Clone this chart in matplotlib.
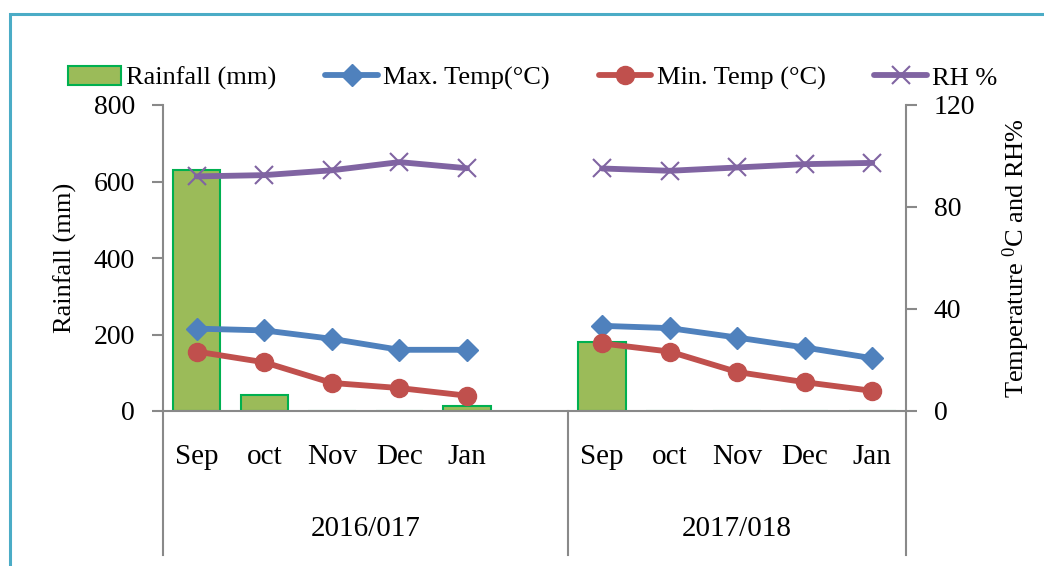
import matplotlib
matplotlib.use("Agg")
import matplotlib.pyplot as plt
from matplotlib.patches import Rectangle
import numpy as np

plt.rcParams['font.family'] = ['Liberation Serif', 'DejaVu Serif']
plt.rcParams['mathtext.fontset'] = 'custom'
plt.rcParams['mathtext.rm'] = 'Liberation Serif'
plt.rcParams['mathtext.it'] = 'Liberation Serif:italic'

months = ["Sep", "oct", "Nov", "Dec", "Jan"]
seasons = ["2016/017", "2017/018"]

rain_2016 = [631, 41, 0, 0, 13]
rain_2017 = [181, 1, 0, 0, 0]
tmax_2016 = [32.3, 31.6, 28.3, 24.0, 24.0]
tmax_2017 = [33.4, 32.5, 28.8, 24.9, 20.7]
tmin_2016 = [23.3, 19.1, 11.0, 9.0, 6.0]
tmin_2017 = [26.5, 23.3, 15.3, 11.3, 7.9]
rh_2016 = [92.0, 92.5, 94.4, 97.6, 95.2]
rh_2017 = [95.1, 94.2, 95.5, 96.8, 97.3]

C_BAR = '#9BBB59'
C_BAR_EDGE = '#00B050'
C_MAX = '#4F81BD'
C_MIN = '#C0504D'
C_RH = '#8064A2'
C_AX = '#898989'

W, H = 1044, 566
fig = plt.figure(figsize=(W / 100, H / 100), dpi=100)

# light-blue frame
fig.patches.append(Rectangle((10 / W, -0.2), 1.2, 1.2 - 14 / H, transform=fig.transFigure,
                             fill=False, edgecolor='#4BACC6', linewidth=2.2, zorder=0))

left, right, top, bottom = 163 / W, 906 / W, 1 - 105 / H, 1 - 411 / H
ax = fig.add_axes([left, bottom, right - left, top - bottom])
ax2 = ax.twinx()

x1 = np.arange(5)
x2 = np.arange(6, 11)

ax.bar(x1, rain_2016, width=0.7, color=C_BAR, edgecolor=C_BAR_EDGE, linewidth=1.5,
       label='Rainfall (mm)', zorder=2)
ax.bar(x2, rain_2017, width=0.7, color=C_BAR, edgecolor=C_BAR_EDGE, linewidth=1.5, zorder=2)

lw = 4.2
for xs, tmax, tmin, rh, lab in [(x1, tmax_2016, tmin_2016, rh_2016, True),
                                (x2, tmax_2017, tmin_2017, rh_2017, False)]:
    ax2.plot(xs, tmax, color=C_MAX, lw=lw, marker='D', ms=11,
             label='Max. Temp(°C)' if lab else None, solid_capstyle='round')
    ax2.plot(xs, tmin, color=C_MIN, lw=lw, marker='o', ms=13,
             label='Min. Temp (°C)' if lab else None, solid_capstyle='round')
    ax2.plot(xs, rh, color=C_RH, lw=lw, marker='x', ms=13, mew=1.5,
             label='RH %' if lab else None, solid_capstyle='round')

ax.set_xlim(-0.5, 10.5)
ax.set_ylim(0, 800)
ax2.set_ylim(0, 120)
ax.set_yticks([0, 200, 400, 600, 800])
ax2.set_yticks([0, 40, 80, 120])
ax.set_xticks([])

for a in (ax, ax2):
    for s in a.spines.values():
        s.set_visible(False)
ax.spines['left'].set_visible(True)
ax.spines['left'].set_color(C_AX)
ax.spines['left'].set_linewidth(1.5)
ax2.spines['right'].set_visible(True)
ax2.spines['right'].set_color(C_AX)
ax2.spines['right'].set_linewidth(1.5)
ax.spines['bottom'].set_visible(True)
ax.spines['bottom'].set_color(C_AX)
ax.spines['bottom'].set_linewidth(1.5)

ax.tick_params(axis='y', direction='out', length=8, width=1.5, color=C_AX,
               labelsize=20, pad=12)
ax2.tick_params(axis='y', direction='out', length=8, width=1.5, color=C_AX,
                labelsize=20, pad=12)

ax.set_ylabel('Rainfall (mm)', fontsize=19, labelpad=12)
ax2.set_ylabel('Temperature $^{0}$C and RH%', fontsize=19, labelpad=18)

# category labels
trans = matplotlib.transforms.blended_transform_factory(ax.transData, ax.transAxes)
for xs in (x1, x2):
    for xi, m in zip(xs, months):
        ax.text(xi, -0.15, m, transform=trans, ha='center', va='center', fontsize=21)
ax.text(2.5, -0.385, seasons[0], transform=trans, ha='center', va='center', fontsize=21)
ax.text(8.0, -0.385, seasons[1], transform=trans, ha='center', va='center', fontsize=21)
for xb in (-0.5, 5.5, 10.5):
    ax.plot([xb, xb], [0, -0.47], transform=trans, color=C_AX, lw=1.5, clip_on=False)

h1, l1 = ax.get_legend_handles_labels()
h2, l2 = ax2.get_legend_handles_labels()
fig.legend(h1 + h2, l1 + l2, loc='center left', bbox_to_anchor=(68 / W, 1 - 78 / H),
           ncol=4, frameon=False, fontsize=19, handlelength=2.0, handletextpad=0.2,
           columnspacing=1.85, borderaxespad=0, borderpad=0)

fig.savefig('out.png', dpi=100)
